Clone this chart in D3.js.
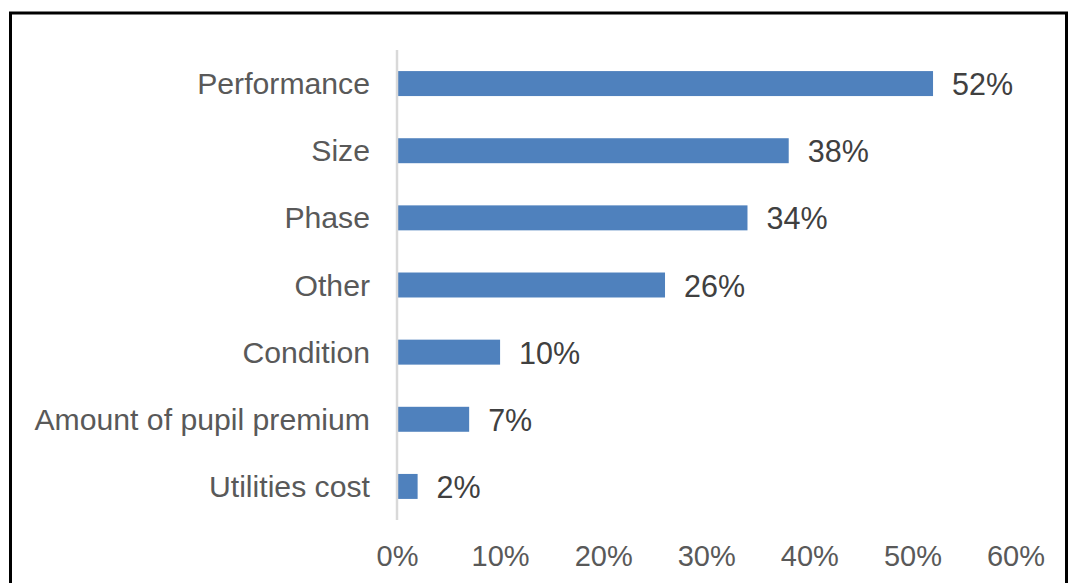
<!DOCTYPE html>
<html>
<head>
<meta charset="utf-8">
<script src="https://cdn.jsdelivr.net/npm/d3@7"></script>
<style>
  html, body { margin: 0; padding: 0; background: #fff; }
  svg { display: block; }
  text { font-family: "Liberation Sans", Arial, sans-serif; }
</style>
</head>
<body>
<svg id="chart" width="1068" height="583"></svg>
<script>
const categories = ["Performance", "Size", "Phase", "Other", "Condition", "Amount of pupil premium", "Utilities cost"];
const values = [52, 38, 34, 26, 10, 7, 2];
const tickValues = [0, 10, 20, 30, 40, 50, 60];
const tickLabels = ["0%", "10%", "20%", "30%", "40%", "50%", "60%"];

const svg = d3.select("#chart");
const W = 1068, H = 583;
svg.append("rect").attr("width", W).attr("height", H).attr("fill", "#fff");

// frame
svg.append("path")
  .attr("d", "M10.5,590 L10.5,13 L1066.5,13 L1066.5,590")
  .attr("fill", "none").attr("stroke", "#000").attr("stroke-width", 3);

const x = d3.scaleLinear().domain([0, 60]).range([397, 1015.5]);
const y = d3.scaleBand().domain(categories).range([50, 520]).paddingInner(0.628).paddingOuter(0.314);

// bars
svg.append("g").selectAll("rect").data(values).join("rect")
  .attr("x", x(0))
  .attr("y", (d, i) => y(categories[i]))
  .attr("width", d => x(d) - x(0))
  .attr("height", y.bandwidth())
  .attr("fill", "#4f81bd");

// vertical axis line
svg.append("line")
  .attr("x1", x(0)).attr("x2", x(0))
  .attr("y1", 50).attr("y2", 520)
  .attr("stroke", "#d9d9d9").attr("stroke-width", 2.5);

// category labels
svg.append("g").selectAll("text").data(categories).join("text")
  .attr("x", x(0) - 27)
  .attr("y", d => y(d) + y.bandwidth() / 2 + 10.5)
  .attr("text-anchor", "end")
  .attr("font-size", 30.2)
  .attr("fill", "#595959")
  .text(d => d);

// value labels
svg.append("g").selectAll("text").data(values).join("text")
  .attr("x", d => x(d) + 19)
  .attr("y", (d, i) => y(categories[i]) + y.bandwidth() / 2 + 11.5)
  .attr("font-size", 30.5)
  .attr("fill", "#404040")
  .text(d => d + "%");

// x axis tick labels
const xAxis = d3.axisBottom(x).tickValues(tickValues)
  .tickFormat((d, i) => tickLabels[i]).tickSize(0).tickPadding(0);
const gx = svg.append("g").attr("transform", "translate(0,545)").call(xAxis);
gx.select(".domain").remove();
gx.selectAll("text")
  .attr("font-size", 29)
  .attr("font-family", "Liberation Sans, Arial, sans-serif")
  .attr("fill", "#595959")
  .attr("dy", "0.71em");
</script>
</body>
</html>
